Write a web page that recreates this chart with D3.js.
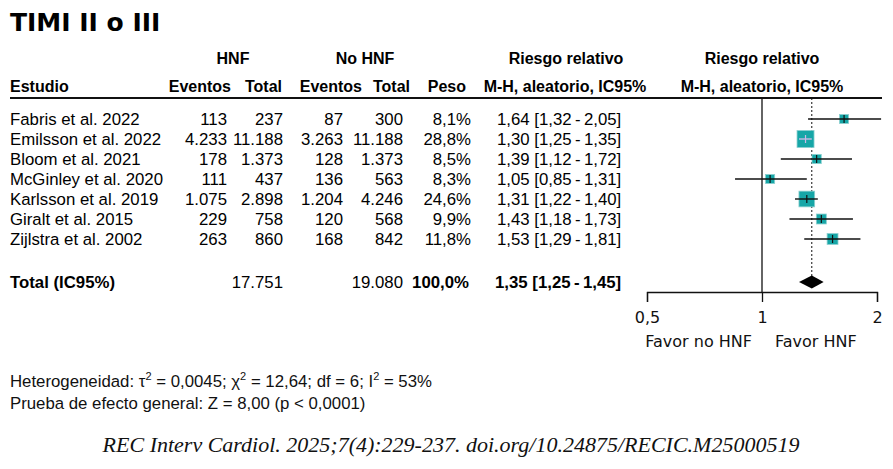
<!DOCTYPE html>
<html>
  <head>
    <meta charset="utf-8" />
    <title>TIMI II o III</title>
    <script src="https://d3js.org/d3.v7.min.js"></script>
    <style>
      body {
        margin: 0;
        background-color: white;
      }
      svg {
        display: block;
      }
      .tab {
        font-family: "Liberation Sans", Arial, sans-serif;
      }
    </style>
  </head>
  <body>
    <svg width="893" height="469" id="forest"></svg>

    <script>
      // Studies
      const studies = [
        "Fabris et al. 2022",
        "Emilsson et al. 2022",
        "Bloom et al. 2021",
        "McGinley et al. 2020",
        "Karlsson et al. 2019",
        "Giralt et al. 2015",
        "Zijlstra et al. 2002"
      ];
      const eventsHNF = [113, 4233, 178, 111, 1075, 229, 263];
      const totalHNF = [237, 11188, 1373, 437, 2898, 758, 860];
      const eventsNoHNF = [87, 3263, 128, 136, 1204, 120, 168];
      const totalNoHNF = [300, 11188, 1373, 563, 4246, 568, 842];
      const weights = [8.1, 28.8, 8.5, 8.3, 24.6, 9.9, 11.8];
      const rr = [1.64, 1.30, 1.39, 1.05, 1.31, 1.43, 1.53];
      const rrLow = [1.32, 1.25, 1.12, 0.85, 1.22, 1.18, 1.29];
      const rrHigh = [2.05, 1.35, 1.72, 1.31, 1.40, 1.73, 1.81];

      // pooled result
      const pooled = { totalHNF: 17751, totalNoHNF: 19080, weight: 100, rr: 1.35, low: 1.25, high: 1.45 };

      const ticks = [0.5, 1, 2];
      const favorLabels = ["Favor no HNF", "Favor HNF"];

      const es = d3.formatLocale({ decimal: ",", thousands: ".", grouping: [3], currency: ["", " €"] });
      const fInt = es.format(",d");
      const f2 = es.format(".2f");
      const f1 = es.format(".1f");
      const tickFmt = d => es.format("")(d);

      const svg = d3.select("#forest");

      const x = d3.scaleLog().domain([0.5, 2]).range([647, 877]);
      const y = d3.scaleLinear().domain([0, studies.length - 1]).range([119, 239]);
      const yTotal = 282;
      const size = d3.scaleSqrt().domain([0, 28.8]).range([0, 17]);

      // title
      svg.append("text")
        .attr("x", 10).attr("y", 31)
        .style("font-family", "'DejaVu Sans', sans-serif")
        .style("font-weight", "bold")
        .style("font-size", "25px")
        .text("TIMI II o III");

      // headers
      const head = svg.append("g").attr("class", "tab")
        .style("font-weight", "bold").style("font-size", "16px");

      head.append("text").attr("x", 233).attr("y", 64).attr("text-anchor", "middle").text("HNF");
      head.append("text").attr("x", 365).attr("y", 64).attr("text-anchor", "middle").text("No HNF");
      head.append("text").attr("x", 566).attr("y", 64).attr("text-anchor", "middle").text("Riesgo relativo");
      head.append("text").attr("x", x(1)).attr("y", 64).attr("text-anchor", "middle").text("Riesgo relativo");

      const heads2 = [
        { t: "Estudio", x: 10, a: "start" },
        { t: "Eventos", x: 231, a: "end" },
        { t: "Total", x: 282, a: "end" },
        { t: "Eventos", x: 362, a: "end" },
        { t: "Total", x: 410, a: "end" },
        { t: "Peso", x: 466, a: "end" },
        { t: "M-H, aleatorio, IC95%", x: 565, a: "middle" },
        { t: "M-H, aleatorio, IC95%", x: x(1), a: "middle" }
      ];
      head.selectAll(".h2").data(heads2).enter().append("text")
        .attr("x", d => d.x).attr("y", 92)
        .attr("text-anchor", d => d.a)
        .text(d => d.t);

      svg.append("line")
        .attr("x1", 10).attr("x2", 882).attr("y1", 98).attr("y2", 98)
        .attr("stroke", "#111").attr("stroke-width", 2);

      // table rows
      const cols = [
        { x: 10, a: "start", v: i => studies[i] },
        { x: 227, a: "end", v: i => fInt(eventsHNF[i]) },
        { x: 283, a: "end", v: i => fInt(totalHNF[i]) },
        { x: 343, a: "end", v: i => fInt(eventsNoHNF[i]) },
        { x: 403, a: "end", v: i => fInt(totalNoHNF[i]) },
        { x: 471, a: "end", v: i => f1(weights[i]) + "%" },
        { x: 497, a: "start", v: i => f2(rr[i]) + " [" + f2(rrLow[i]) + "\u2009-\u2009" + f2(rrHigh[i]) + "]" }
      ];

      const body = svg.append("g").attr("class", "tab").style("font-size", "16.8px");
      cols.forEach(c => {
        body.selectAll(null).data(d3.range(studies.length)).enter().append("text")
          .attr("x", c.x).attr("y", i => y(i) + 6)
          .attr("text-anchor", c.a)
          .text(c.v);
      });

      // total row
      const totalCells = [
        { x: 10, a: "start", b: true, t: "Total (IC95%)" },
        { x: 283, a: "end", b: false, t: fInt(pooled.totalHNF) },
        { x: 403, a: "end", b: false, t: fInt(pooled.totalNoHNF) },
        { x: 469, a: "end", b: true, t: f1(pooled.weight) + "%" },
        { x: 495, a: "start", b: true, t: f2(pooled.rr) + " [" + f2(pooled.low) + "\u2009-\u2009" + f2(pooled.high) + "]" }
      ];
      body.selectAll(".tot").data(totalCells).enter().append("text")
        .attr("x", d => d.x).attr("y", yTotal + 6)
        .attr("text-anchor", d => d.a)
        .style("font-weight", d => d.b ? "bold" : "normal")
        .text(d => d.t);

      // reference line at 1
      svg.append("line")
        .attr("x1", x(1)).attr("x2", x(1)).attr("y1", 98).attr("y2", 292)
        .attr("stroke", "#111").attr("stroke-width", 1.3);

      // pooled estimate dotted line
      svg.append("line")
        .attr("x1", x(pooled.rr)).attr("x2", x(pooled.rr))
        .attr("y1", 98).attr("y2", yTotal - 6)
        .attr("stroke", "#111").attr("stroke-width", 1)
        .attr("stroke-dasharray", "2,2");

      // study markers
      const idx = d3.range(studies.length);
      const inside = i => {
        const s = size(weights[i]) / 2;
        return x(rrLow[i]) >= x(rr[i]) - s && x(rrHigh[i]) <= x(rr[i]) + s;
      };

      svg.selectAll(".sq").data(idx).enter().append("rect")
        .attr("x", i => x(rr[i]) - size(weights[i]) / 2)
        .attr("y", i => y(i) - size(weights[i]) / 2)
        .attr("width", i => size(weights[i]))
        .attr("height", i => size(weights[i]))
        .attr("fill", "#16a6a7")
        .attr("stroke", "#8cd0d0")
        .attr("stroke-width", 0.8);

      svg.selectAll(".ci").data(idx).enter().append("line")
        .attr("x1", i => x(rrLow[i]))
        .attr("x2", i => Math.min(x(rrHigh[i]), 882))
        .attr("y1", i => y(i)).attr("y2", i => y(i))
        .attr("stroke", i => inside(i) ? "#cdb8e6" : "#111")
        .attr("stroke-width", 1.4);

      svg.selectAll(".pt").data(idx).enter().append("line")
        .attr("x1", i => x(rr[i])).attr("x2", i => x(rr[i]))
        .attr("y1", i => y(i) - 4).attr("y2", i => y(i) + 4)
        .attr("stroke", i => inside(i) ? "#cdb8e6" : "#111")
        .attr("stroke-width", 1.2);

      // diamond
      svg.append("path")
        .attr("d", d3.line()([
          [x(pooled.low), yTotal],
          [x(pooled.rr), yTotal - 6.5],
          [x(pooled.high), yTotal],
          [x(pooled.rr), yTotal + 6.5]
        ]) + "Z")
        .attr("fill", "#000");

      // axis
      const axis = d3.axisBottom(x)
        .tickValues(ticks)
        .tickFormat(tickFmt)
        .tickSize(10)
        .tickSizeOuter(10)
        .tickPadding(10);

      const gAxis = svg.append("g")
        .attr("transform", "translate(0,292)")
        .call(axis);
      gAxis.select(".domain").attr("stroke", "#111").attr("stroke-width", 1.3);
      gAxis.selectAll(".tick line").attr("stroke", "#111").attr("stroke-width", 1.3);
      gAxis.selectAll(".tick text")
        .attr("fill", "#111")
        .style("font-family", "'DejaVu Sans', sans-serif")
        .style("font-size", "16px");

      svg.selectAll(".favor").data(favorLabels).enter().append("text")
        .attr("x", (d, i) => i === 0 ? x(1) - 10 : x(1) + 13)
        .attr("y", 347)
        .attr("text-anchor", (d, i) => i === 0 ? "end" : "start")
        .style("font-family", "'DejaVu Sans', sans-serif")
        .style("font-size", "16px")
        .attr("fill", "#111")
        .text(d => d);

      // footnotes
      const foot = svg.append("g").attr("class", "tab").style("font-size", "16.8px").attr("fill", "#111");
      const het = foot.append("text").attr("x", 10).attr("y", 387);
      het.append("tspan").text("Heterogeneidad: \u03C4");
      het.append("tspan").attr("dy", -7).style("font-size", "11px").text("2");
      het.append("tspan").attr("dy", 7).text(" = 0,0045; \u03C7");
      het.append("tspan").attr("dy", -7).style("font-size", "11px").text("2");
      het.append("tspan").attr("dy", 7).text(" = 12,64; df = 6; I");
      het.append("tspan").attr("dy", -7).style("font-size", "11px").text("2");
      het.append("tspan").attr("dy", 7).text(" = 53%");

      foot.append("text").attr("x", 10).attr("y", 409)
        .text("Prueba de efecto general: Z = 8,00 (p < 0,0001)");

      svg.append("text")
        .attr("x", 451).attr("y", 452)
        .attr("text-anchor", "middle")
        .style("font-family", "'Liberation Serif', serif")
        .style("font-style", "italic")
        .style("font-size", "22px")
        .attr("fill", "#111")
        .text("REC Interv Cardiol. 2025;7(4):229-237. doi.org/10.24875/RECIC.M25000519");
    </script>
  </body>
</html>
